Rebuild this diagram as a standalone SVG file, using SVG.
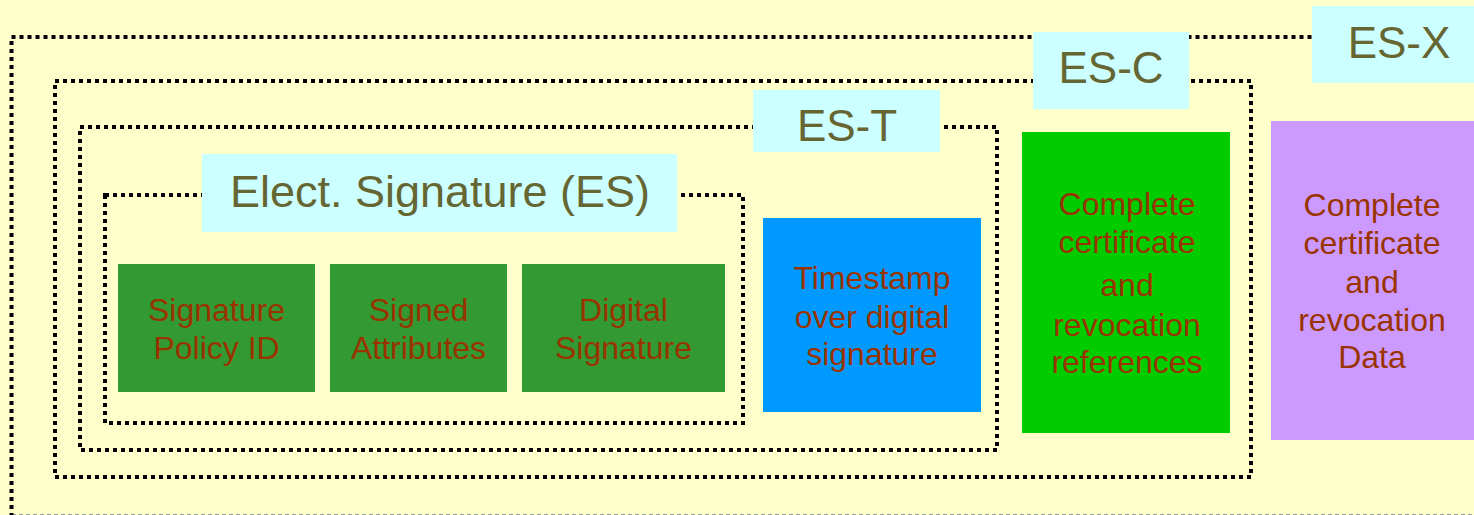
<svg xmlns="http://www.w3.org/2000/svg" width="1474" height="515" viewBox="0 0 1474 515">
<style>
.frame{fill:none;stroke:#000;stroke-width:4;stroke-dasharray:4 4}
.lbl{fill:#CCFFFF}
.lt{font-family:"Liberation Sans",Arial,sans-serif;font-size:44px;fill:#666633;text-anchor:middle}
.bt{font-family:"Liberation Sans",Arial,sans-serif;font-size:32px;fill:#993300;text-anchor:middle}
</style>
<rect x="0" y="0" width="1474" height="515" fill="#FFFFCC"/>
<line x1="12" y1="514.5" x2="1474" y2="514.5" stroke="#999999" stroke-width="1" stroke-dasharray="4 3"/>
<g id="es-x">
<rect class="frame" x="11.5" y="37" width="1520" height="520"/>
<rect class="lbl" x="1312" y="6" width="162" height="77"/>
<text class="lt" x="1399" y="58">ES-X</text>
</g>
<g id="es-c">
<rect class="frame" x="55" y="81" width="1196" height="396"/>
<rect class="lbl" x="1033" y="32" width="156" height="77"/>
<text class="lt" x="1111" y="83">ES-C</text>
</g>
<g id="es-t">
<rect class="frame" x="80" y="127" width="917" height="323"/>
<rect class="lbl" x="753" y="90" width="187" height="62"/>
<text class="lt" x="847" y="141">ES-T</text>
</g>
<g id="es">
<rect class="frame" x="105" y="195" width="638" height="228"/>
<rect class="lbl" x="202" y="154" width="475" height="78"/>
<text class="lt" x="440" y="207" style="font-size:45px">Elect. Signature (ES)</text>
</g>
<g id="policy">
<rect x="118" y="264" width="197" height="128" fill="#339933"/>
<text class="bt" x="216.5" y="321">Signature</text>
<text class="bt" x="216.5" y="359">Policy ID</text>
</g>
<g id="signed">
<rect x="330" y="264" width="177" height="128" fill="#339933"/>
<text class="bt" x="418.5" y="321">Signed</text>
<text class="bt" x="418.5" y="359">Attributes</text>
</g>
<g id="digital">
<rect x="522" y="264" width="203" height="128" fill="#339933"/>
<text class="bt" x="623.5" y="321">Digital</text>
<text class="bt" x="623.5" y="359">Signature</text>
</g>
<g id="timestamp">
<rect x="763" y="218" width="218" height="194" fill="#0099FF"/>
<text class="bt" x="872" y="289">Timestamp</text>
<text class="bt" x="872" y="328">over digital</text>
<text class="bt" x="872" y="365">signature</text>
</g>
<g id="refs">
<rect x="1022" y="132" width="208" height="301" fill="#00CC00"/>
<text class="bt" x="1127" y="215">Complete</text>
<text class="bt" x="1127" y="253">certificate</text>
<text class="bt" x="1127" y="296">and</text>
<text class="bt" x="1127" y="336">revocation</text>
<text class="bt" x="1127" y="373">references</text>
</g>
<g id="data">
<rect x="1271" y="121" width="203" height="319" fill="#CC99FF"/>
<text class="bt" x="1372" y="216">Complete</text>
<text class="bt" x="1372" y="254">certificate</text>
<text class="bt" x="1372" y="293">and</text>
<text class="bt" x="1372" y="331">revocation</text>
<text class="bt" x="1372" y="368">Data</text>
</g>
<g id="connectors"></g>
</svg>
